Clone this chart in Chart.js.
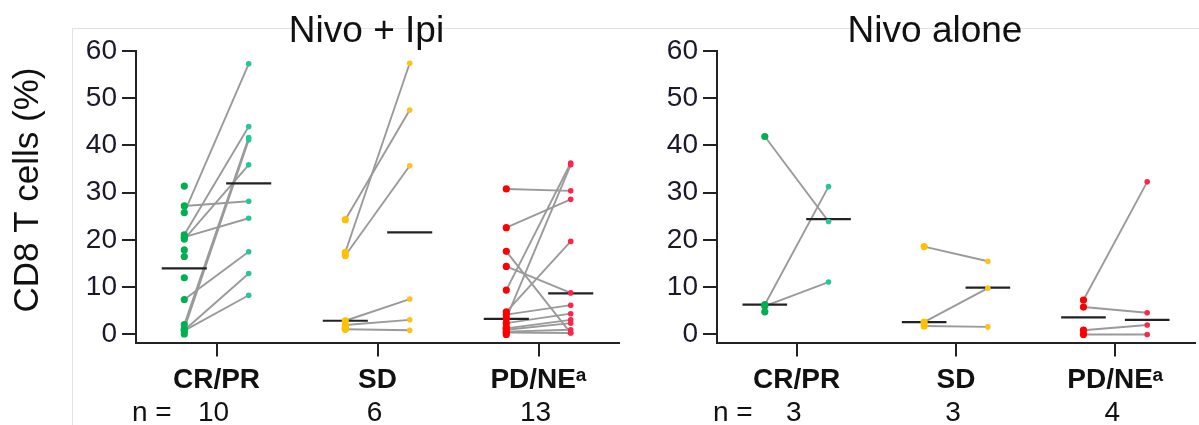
<!DOCTYPE html>
<html>
<head>
<meta charset="utf-8">
<script src="https://cdn.jsdelivr.net/npm/chart.js@4.4.1/dist/chart.umd.min.js"></script>
<style>
  html, body { margin: 0; padding: 0; background: #fff; }
  #wrap { position: relative; width: 1199px; height: 425px; overflow: hidden; }
  #frame { position: absolute; left: 72px; top: 28px; right: -2px; bottom: -2px;
           border-left: 1px solid #e2e2e2; border-top: 1px solid #e2e2e2; }
  #left { position: absolute; left: 0; top: 0; }
  #right { position: absolute; left: 640px; top: 0; }
</style>
</head>
<body>
<div id="wrap">
  <div id="frame"></div>
  <canvas id="left" width="640" height="425" style="width:640px;height:425px"></canvas>
  <canvas id="right" width="559" height="425" style="width:559px;height:425px"></canvas>
</div>
<script>
// categorias y etiquetas
const categories = ['CR/PR', 'SD', 'PD/NEᵃ'];
const yTicks = [0, 10, 20, 30, 40, 50, 60];
const comboCounts = [10, 6, 13];
const aloneCounts = [3, 3, 4];

// Nivo + Ipi (pre -> post, pares)
const comboCrprPre  = [25.8, 21.1, 20.2, 20.6, 27.2, 2.1, 1.2, 7.4, 0.9, 0.8];
const comboCrprPost = [57.3, 44.0, 35.9, 24.6, 28.2, 41.7, 41.2, 17.5, 12.9, 8.3];
const comboCrprPreOnly = [31.4, 17.9, 16.5, 12.0, 0.1];
const comboCrprMedian = [14.0, 32.0];

const comboSdPre  = [17.4, 16.7, 24.3, 2.9, 2.0, 1.1];
const comboSdPost = [57.4, 35.7, 47.5, 7.5, 3.1, 0.9];
const comboSdPreOnly = [1.5, 1.2];
const comboSdMedian = [2.9, 21.6];

const comboPdPre  = [30.8, 22.6, 17.6, 14.4, 9.4, 3.4, 4.8, 4.2, 2.4, 1.3, 1.0, 0.6, 0.4];
const comboPdPost = [30.4, 28.6, 0.3, 8.8, 36.3, 35.9, 19.7, 6.2, 4.4, 3.1, 2.4, 1.0, 0.3];
const comboPdPreOnly = [0.0, 1.5];
const comboPdMedian = [3.3, 8.7];

// Nivo alone
const aloneCrprPre  = [41.9, 6.3, 6.0];
const aloneCrprPost = [23.9, 31.3, 11.1];
const aloneCrprPreOnly = [4.8];
const aloneCrprMedian = [6.3, 24.4];

const aloneSdPre  = [18.6, 2.6, 1.8];
const aloneSdPost = [15.5, 9.8, 1.6];
const aloneSdPreOnly = [];
const aloneSdMedian = [2.6, 9.9];

const alonePdPre  = [7.3, 5.8, 0.9, 0.0];
const alonePdPost = [32.3, 4.6, 2.0, 0.0];
const alonePdPreOnly = [];
const alonePdMedian = [3.6, 3.1];

// colores por grupo (pre, post)
const preColors  = ['#00b050', '#ffc000', '#ff0000'];
const postColors = ['#22c89a', '#ffc21a', '#ff2448'];

const FONT = '"Liberation Sans", Arial, sans-serif';
const OFF = 0.2;     // desplazamiento pre/post
const HALF = 0.14;   // media anchura de la mediana

function buildDatasets(pre, post, preOnly, medians) {
  const ds = [];
  for (let g = 0; g < 3; g++) {
    // lineas que unen los pares
    pre[g].forEach((v, i) => {
      ds.push({
        data: [{x: g - OFF, y: v}, {x: g + OFF, y: post[g][i]}],
        showLine: true, borderColor: '#9a9a9a', borderWidth: 1.9,
        pointRadius: 0, order: 3
      });
    });
    // medianas
    [g - OFF, g + OFF].forEach((cx, k) => {
      ds.push({
        data: [{x: cx - HALF, y: medians[g][k]}, {x: cx + HALF, y: medians[g][k]}],
        showLine: true, borderColor: '#222', borderWidth: 2.2,
        pointRadius: 0, order: 2
      });
    });
    // puntos
    ds.push({
      data: pre[g].concat(preOnly[g]).map(v => ({x: g - OFF, y: v})),
      backgroundColor: preColors[g], borderColor: preColors[g],
      pointRadius: 3.6, borderWidth: 0, order: 1
    });
    ds.push({
      data: post[g].map(v => ({x: g + OFF, y: v})),
      backgroundColor: postColors[g], borderColor: postColors[g],
      pointRadius: 2.8, borderWidth: 0, order: 1
    });
  }
  return ds;
}

// textos: titulo, n =, titulo del eje y
const panelText = {
  id: 'panelText',
  afterDraw(chart, args, opts) {
    const ctx = chart.ctx;
    const area = chart.chartArea;
    const xs = chart.scales.x;
    ctx.save();
    ctx.fillStyle = '#111';
    ctx.textBaseline = 'alphabetic';
    ctx.font = '37px ' + FONT;
    ctx.textAlign = 'center';
    ctx.fillText(opts.title, (area.left + area.right) / 2 + opts.titleShift, 42);
    ctx.font = '28px ' + FONT;
    ctx.textAlign = 'left';
    ctx.fillText('n =', area.left - 4, 421);
    ctx.textAlign = 'center';
    opts.counts.forEach((n, i) => ctx.fillText(String(n), xs.getPixelForValue(i) - 3, 421));
    if (opts.yTitle) {
      ctx.translate(28, 190);
      ctx.rotate(-Math.PI / 2);
      ctx.font = '35px ' + FONT;
      ctx.textBaseline = 'middle';
      ctx.fillText(opts.yTitle, 0, 0);
    }
    ctx.restore();
  }
};

function makeChart(id, datasets, yWidth, padRight, textOpts) {
  return new Chart(document.getElementById(id), {
    type: 'scatter',
    data: { datasets: datasets },
    plugins: [panelText],
    options: {
      responsive: false,
      animation: false,
      events: [],
      layout: { padding: { top: 51, right: padRight, bottom: 0, left: 0 } },
      plugins: {
        legend: { display: false },
        tooltip: { enabled: false },
        panelText: textOpts
      },
      scales: {
        x: {
          type: 'linear', min: -0.5, max: 2.5,
          afterBuildTicks: s => { s.ticks = [0, 1, 2].map(v => ({value: v})); },
          afterFit: s => { s.height = 82.5; },
          border: { color: '#222', width: 2 },
          grid: { drawOnChartArea: false, tickLength: 14, color: '#222', lineWidth: 2 },
          ticks: {
            callback: v => categories[v],
            autoSkip: false, maxRotation: 0, padding: 7,
            color: '#111', font: { family: FONT, size: 28, weight: 'bold' }
          }
        },
        y: {
          min: -1.7, max: 60,
          afterBuildTicks: s => { s.ticks = yTicks.map(v => ({value: v})); },
          afterFit: s => { s.width = yWidth; },
          border: { color: '#222', width: 2 },
          grid: { drawOnChartArea: false, tickLength: 14, color: '#222', lineWidth: 2 },
          ticks: {
            padding: 5, color: '#1a1a2a',
            font: { family: FONT, size: 28 }
          }
        }
      }
    }
  });
}

document.addEventListener('DOMContentLoaded', function() {
  const comboSets = buildDatasets(
    [comboCrprPre, comboSdPre, comboPdPre],
    [comboCrprPost, comboSdPost, comboPdPost],
    [comboCrprPreOnly, comboSdPreOnly, comboPdPreOnly],
    [comboCrprMedian, comboSdMedian, comboPdMedian]);
  const aloneSets = buildDatasets(
    [aloneCrprPre, aloneSdPre, alonePdPre],
    [aloneCrprPost, aloneSdPost, alonePdPost],
    [aloneCrprPreOnly, aloneSdPreOnly, alonePdPreOnly],
    [aloneCrprMedian, aloneSdMedian, alonePdMedian]);

  makeChart('left', comboSets, 136, 21,
    { title: 'Nivo + Ipi', titleShift: -11, counts: comboCounts, yTitle: 'CD8 T cells (%)' });
  makeChart('right', aloneSets, 77, 0,
    { title: 'Nivo alone', titleShift: -21, counts: aloneCounts, yTitle: null });
});
</script>
</body>
</html>
